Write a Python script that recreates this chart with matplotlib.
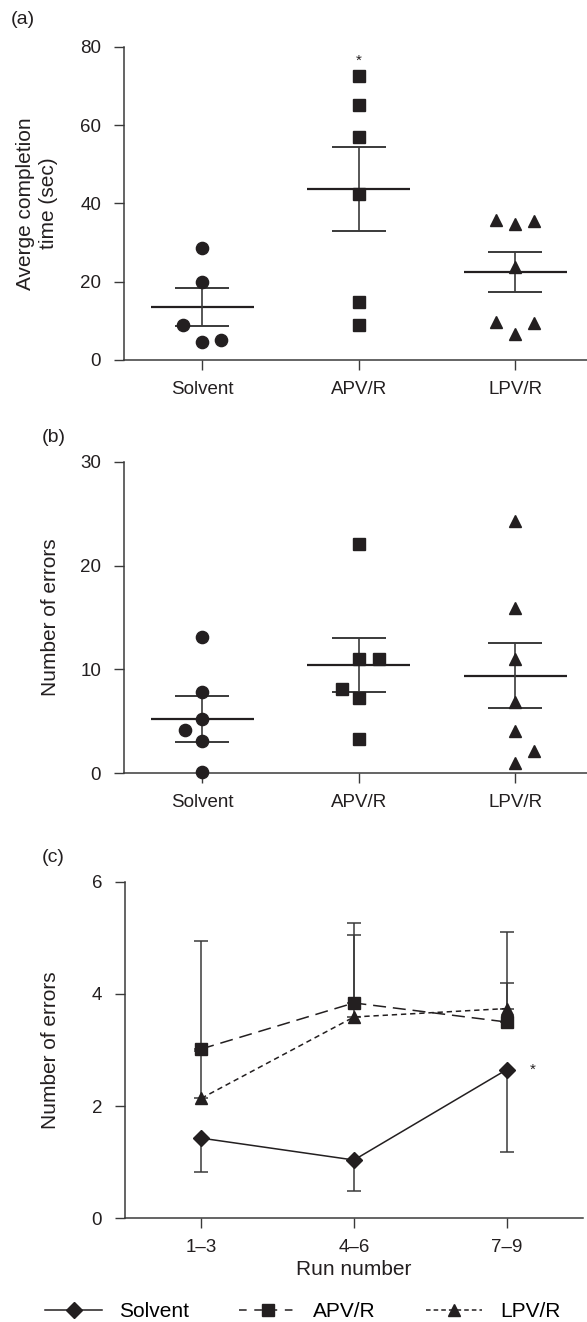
"""
Maze task: completion time and errors per treatment group
"""
import numpy as np
import matplotlib
matplotlib.use('Agg')
import matplotlib.pyplot as plt
from matplotlib.lines import Line2D

plt.rcParams['font.family'] = ['Liberation Sans', 'DejaVu Sans']
plt.rcParams['font.size'] = 13

INK = '#231f20'
GREY = '#3a3a3a'

# ---- data ----
groups = ['Solvent', 'APV/R', 'LPV/R']

# (a) average completion time (sec)
time_solvent = [28.7, 19.9, 8.9, 4.5, 5.1]
time_apv = [72.5, 65.1, 57.0, 42.5, 14.7, 9.0]
time_lpv = [35.8, 34.8, 35.6, 23.7, 9.8, 6.6, 9.5]
time_mean = [13.6, 43.7, 22.5]
time_sem = [4.8, 10.8, 5.1]

# (b) number of errors
err_solvent = [13.1, 7.8, 5.2, 4.2, 3.1, 0.1]
err_apv = [22.1, 11.0, 11.0, 8.1, 7.2, 3.3]
err_lpv = [24.3, 15.9, 11.0, 6.9, 4.1, 2.1, 1.0]
err_mean = [5.2, 10.4, 9.4]
err_sem = [2.2, 2.6, 3.15]

# (c) errors per block of runs
runs = ['1\u20133', '4\u20136', '7\u20139']
solvent_runs = [1.43, 1.04, 2.65]
solvent_runs_lo = [0.60, 0.55, 1.46]
apv_runs = [3.02, 3.84, 3.50]
apv_runs_hi = [1.92, 1.42, 1.61]
lpv_runs = [2.14, 3.59, 3.74]
lpv_runs_hi = [0.85, 1.46, 0.45]

# horizontal spread of overlapping points (layout only)
off_a = [[0, 0, -0.12, 0, 0.12], [0] * 6, [-0.12, 0, 0.12, 0, -0.12, 0, 0.12]]
off_b = [[0, 0, 0, -0.11, 0, 0], [0, 0, 0.13, -0.11, 0, 0], [0, 0, 0, 0, 0, 0.12, 0]]

fig = plt.figure(figsize=(5.87, 13.22), dpi=100)


def style_axes(ax):
    for s in ['top', 'right']:
        ax.spines[s].set_visible(False)
    for s in ['left', 'bottom']:
        ax.spines[s].set_linewidth(1.1)
        ax.spines[s].set_color(GREY)
    ax.tick_params(direction='out', length=7.5, width=1.0, color=GREY,
                   labelcolor=INK, labelsize=13.5)
    ax.tick_params(axis='y', pad=9)
    ax.tick_params(axis='x', pad=7.5)


def scatter_panel(ax, data, offsets, means, sems, markers, ylim, yticks):
    for i, (vals, offs, m) in enumerate(zip(data, offsets, markers)):
        xs = np.full(len(vals), i + 1.0) + np.array(offs)
        ax.plot(xs, vals, linestyle='none', marker=m, color=INK,
                markersize=8.8 if m != '^' else 8.4, zorder=3, clip_on=False)
    x = np.arange(1, len(means) + 1)
    ax.hlines(means, x - 0.33, x + 0.33, color=INK, linewidth=1.6, zorder=2)
    ax.errorbar(x, means, yerr=sems, fmt='none', ecolor=GREY, elinewidth=1.2,
                capsize=19.5, capthick=1.4, zorder=2)
    ax.set_xlim(0.5, 3.5)
    ax.set_ylim(*ylim)
    ax.set_yticks(yticks)
    ax.set_xticks(x)
    ax.set_xticklabels(groups)
    style_axes(ax)


# (a)
ax1 = fig.add_axes([0.2112, 0.7277, 0.7998, 0.2368])
scatter_panel(ax1, [time_solvent, time_apv, time_lpv], off_a, time_mean, time_sem,
              ['o', 's', '^'], (0, 80), [0, 20, 40, 60, 80])
ax1.set_ylabel('Averge completion\ntime (sec)', fontsize=15, linespacing=1.25,
               color=INK)
ax1.yaxis.set_label_coords(-0.141, 0.5)
ax1.text(2, 76.5, '*', ha='center', va='center', fontsize=11, color=INK)

# (b)
ax2 = fig.add_axes([0.2112, 0.4151, 0.7998, 0.2357])
scatter_panel(ax2, [err_solvent, err_apv, err_lpv], off_b, err_mean, err_sem,
              ['o', 's', '^'], (0, 30), [0, 10, 20, 30])
ax2.set_ylabel('Number of errors', fontsize=15, color=INK)
ax2.yaxis.set_label_coords(-0.136, 0.5)

# (c)
ax3 = fig.add_axes([0.2129, 0.0784, 0.7802, 0.2546])
xr = np.arange(1, len(runs) + 1)
zeros = np.zeros(len(runs))
ax3.errorbar(xr, solvent_runs, yerr=[solvent_runs_lo, zeros], fmt='none',
             ecolor=GREY, elinewidth=1.1, capsize=5, capthick=1.1, zorder=1)
ax3.errorbar(xr, apv_runs, yerr=[zeros, apv_runs_hi], fmt='none',
             ecolor=GREY, elinewidth=1.1, capsize=5, capthick=1.1, zorder=1)
ax3.errorbar(xr, lpv_runs, yerr=[zeros, lpv_runs_hi], fmt='none',
             ecolor=GREY, elinewidth=1.1, capsize=5, capthick=1.1, zorder=1)
ax3.plot(xr, solvent_runs, color=INK, linewidth=1.1, marker='D', markersize=8.5,
         zorder=3)
ax3.plot(xr, apv_runs, color=INK, linewidth=1.1, dashes=(8.5, 4.5), marker='s',
         markersize=9.0, zorder=3)
ax3.plot(xr, lpv_runs, color=INK, linewidth=1.1, dashes=(3.5, 2.5), marker='^',
         markersize=8.0, zorder=3)
ax3.text(3.17, solvent_runs[2], '*', ha='center', va='center', fontsize=11, color=INK)
ax3.set_xlim(0.5, 3.5)
ax3.set_ylim(0, 6)
ax3.set_yticks([0, 2, 4, 6])
ax3.set_xticks(xr)
ax3.set_xticklabels(runs)
ax3.set_xlabel('Run number', fontsize=15, labelpad=3, color=INK)
ax3.set_ylabel('Number of errors', fontsize=15, color=INK)
ax3.yaxis.set_label_coords(-0.142, 0.5)
style_axes(ax3)

# panel letters
fig.text(11 / 587, 1 - 20 / 1322, '(a)', fontsize=14, va='center', color=INK)
fig.text(42 / 587, 1 - 437 / 1322, '(b)', fontsize=14, va='center', color=INK)
fig.text(42 / 587, 1 - 857 / 1322, '(c)', fontsize=14, va='center', color=INK)

# legend below panel c
handles = [
    Line2D([], [], color=INK, linewidth=1.1, marker='D', markersize=8.5),
    Line2D([], [], color=INK, linewidth=1.1, dashes=(5, 5), marker='s', markersize=9.0),
    Line2D([], [], color=INK, linewidth=1.1, dashes=(3, 2), marker='^', markersize=8.0),
]
fig.legend(handles, groups, loc='center', bbox_to_anchor=(0.516, 0.0078), ncol=3,
           frameon=False, fontsize=15, handlelength=2.7, handletextpad=0.85,
           columnspacing=2.4, borderaxespad=0)

plt.savefig('out.png', dpi=100)
print('saved out.png')
